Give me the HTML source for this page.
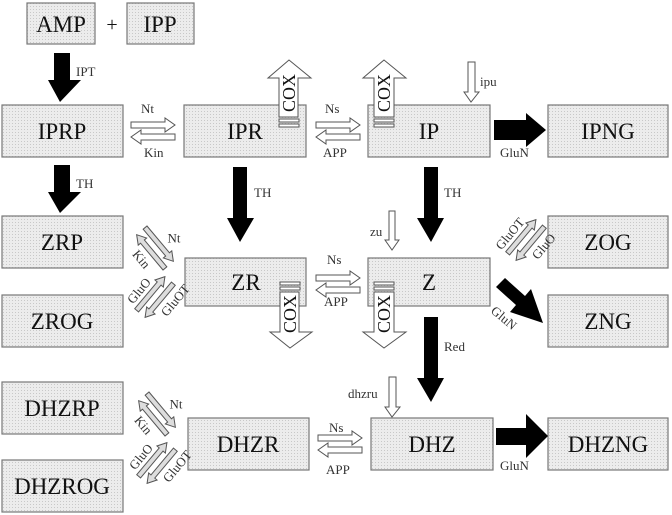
<!DOCTYPE html>
<html><head><meta charset="utf-8"><style>
html,body{margin:0;padding:0;background:#fff;}
svg{display:block;}
text{font-family:"Liberation Serif","DejaVu Serif",serif;}
</style></head><body>
<svg width="672" height="515" viewBox="0 0 672 515" xmlns="http://www.w3.org/2000/svg" font-family="Liberation Serif, serif">
<defs>
<pattern id="dots" width="3" height="3" patternUnits="userSpaceOnUse">
<rect width="3" height="3" fill="#ececec"/><rect width="1" height="1" fill="#c8c8c8"/>
</pattern>
<g id="pair">
<polygon points="-22,-9 12,-9 12,-13 22,-6 12,1 12,-3 -22,-3" fill="#fff" stroke="#555" stroke-width="1"/>
<polygon points="22,3 -12,3 -12,-1 -22,6 -12,13 -12,9 22,9" fill="#fff" stroke="#555" stroke-width="1"/>
</g>
<g id="pairg">
<polygon points="-22,-8 13,-8 13,-11 22,-5.5 13,0 13,-3 -22,-3" fill="#ddd" stroke="#555" stroke-width="1"/>
<polygon points="22,3 -13,3 -13,0 -22,5.5 -13,11 -13,8 22,8" fill="#ddd" stroke="#555" stroke-width="1"/>
</g>
</defs>
<g fill="url(#dots)" stroke="#777" stroke-width="1.2">
<rect x="27" y="3" width="68" height="41"/>
<rect x="127" y="3" width="67" height="41"/>
<rect x="2" y="105" width="121" height="52"/>
<rect x="184" y="105" width="122" height="52"/>
<rect x="368" y="105" width="122" height="52"/>
<rect x="548" y="105" width="120" height="52"/>
<rect x="2" y="216" width="121" height="52"/>
<rect x="2" y="295" width="121" height="52"/>
<rect x="185" y="258" width="121" height="48"/>
<rect x="368" y="258" width="122" height="48"/>
<rect x="548" y="216" width="120" height="52"/>
<rect x="548" y="295" width="120" height="52"/>
<rect x="2" y="382" width="121" height="52"/>
<rect x="2" y="460" width="121" height="52"/>
<rect x="188" y="418" width="121" height="52"/>
<rect x="371" y="418" width="122" height="52"/>
<rect x="548" y="418" width="120" height="52"/>
</g>
<g font-size="23" fill="#111" text-anchor="middle" font-family="Liberation Serif, serif">
<text x="61" y="32">AMP</text><text x="112" y="31" font-size="20">+</text><text x="160" y="32">IPP</text>
<text x="62" y="139">IPRP</text><text x="245" y="139">IPR</text><text x="429" y="139">IP</text><text x="608" y="139">IPNG</text>
<text x="62" y="250">ZRP</text><text x="62" y="329">ZROG</text>
<text x="246" y="290">ZR</text><text x="429" y="290">Z</text>
<text x="608" y="250">ZOG</text><text x="608" y="329">ZNG</text>
<text x="62" y="416">DHZRP</text><text x="62" y="494">DHZROG</text>
<text x="248" y="452">DHZR</text><text x="432" y="452">DHZ</text><text x="608" y="452">DHZNG</text>
</g>
<g fill="#000">
<polygon points="54,53 70,53 70,80 81,80 60,102 48,80 54,80"/>
<polygon points="54,165 70,165 70,192 81,192 60,213 48,192 54,192"/>
<polygon points="233,167 247,167 247,218 254,218 240,242 227,218 233,218"/>
<polygon points="424,167 438,167 438,218 444,218 431,242 417,218 424,218"/>
<polygon points="424,317 438,317 438,378 444,378 431,402 417,378 424,378"/>
<polygon points="494,120 526,120 526,113 546,130 526,147 526,140 494,140"/>
<polygon points="496,428 526,428 526,414 548,436 526,458 526,445 496,445"/>
<polygon points="505,278 525,296 531,289 543,323 510,312 516,305 496,287"/>
</g>
<g font-size="13" fill="#333" font-family="Liberation Serif, serif">
<text x="76" y="76">IPT</text><text x="76" y="188">TH</text><text x="254" y="197">TH</text><text x="444" y="197">TH</text>
<text x="444" y="351">Red</text><text x="500" y="157">GluN</text><text x="500" y="470">GluN</text>
<text x="480" y="86">ipu</text><text x="370" y="236">zu</text><text x="348" y="398">dhzru</text>
<text x="141" y="113">Nt</text><text x="144" y="157">Kin</text>
<text x="325" y="113">Ns</text><text x="323" y="157">APP</text>
<text x="327" y="264">Ns</text><text x="324" y="306">APP</text>
<text x="329" y="432">Ns</text><text x="326" y="474">APP</text>
<text x="0" y="0" transform="translate(490,312) rotate(40)">GluN</text>
</g>
<use href="#pair" transform="translate(153,131)"/>
<use href="#pair" transform="translate(338,131)"/>
<use href="#pair" transform="translate(338,284)"/>
<use href="#pair" transform="translate(340,444)"/>
<g font-size="13" fill="#333" font-family="Liberation Serif, serif">
<g transform="translate(155,248) rotate(50)"><use href="#pairg"/>
<text x="4" y="-13" transform="rotate(-50 4 -13)">Nt</text>
<text x="-10" y="22">Kin</text></g>
<g transform="translate(155,297) rotate(-50)"><use href="#pairg"/>
<text x="-20" y="-12">GluO</text>
<text x="-8" y="22">GluOT</text></g>
<g transform="translate(157,414) rotate(50)"><use href="#pairg"/>
<text x="4" y="-13" transform="rotate(-50 4 -13)">Nt</text>
<text x="-10" y="22">Kin</text></g>
<g transform="translate(157,463) rotate(-50)"><use href="#pairg"/>
<text x="-20" y="-12">GluO</text>
<text x="-8" y="22">GluOT</text></g>
<g transform="translate(526,240) rotate(-50)"><use href="#pairg"/>
<text x="-24" y="-12">GluOT</text>
<text x="-8" y="22">GluO</text></g>
</g>
<g fill="#fff" stroke="#555" stroke-width="1">
<polygon points="279,117 298,117 298,78 311,78 289,60 268,78 279,78"/>
<rect x="279" y="119" width="20" height="3"/><rect x="279" y="124" width="20" height="3"/>
<polygon points="374,117 394,117 394,78 406,78 384,60 363,78 374,78"/>
<rect x="374" y="119" width="20" height="3"/><rect x="374" y="124" width="20" height="3"/>
<polygon points="280,292 299,292 299,332 312,332 290,348 270,332 280,332"/>
<rect x="280" y="282" width="20" height="3"/><rect x="280" y="287" width="20" height="3"/>
<polygon points="374,292 394,292 394,332 406,332 384,348 363,332 374,332"/>
<rect x="374" y="282" width="20" height="3"/><rect x="374" y="287" width="20" height="3"/>
<polygon points="468,62 475,62 475,92 479,92 471,102 464,92 468,92"/>
<polygon points="389,211 395,211 395,240 399,240 392,250 385,240 389,240"/>
<polygon points="389,377 396,377 396,407 400,407 392,417 385,407 389,407"/>
</g>
<g font-size="18" fill="#111" text-anchor="middle" font-family="Liberation Serif, serif">
<text transform="translate(295,93) rotate(-90)">COX</text>
<text transform="translate(390,93) rotate(-90)">COX</text>
<text transform="translate(296,314) rotate(-90)">COX</text>
<text transform="translate(390,314) rotate(-90)">COX</text>
</g>
</svg>
</body></html>
